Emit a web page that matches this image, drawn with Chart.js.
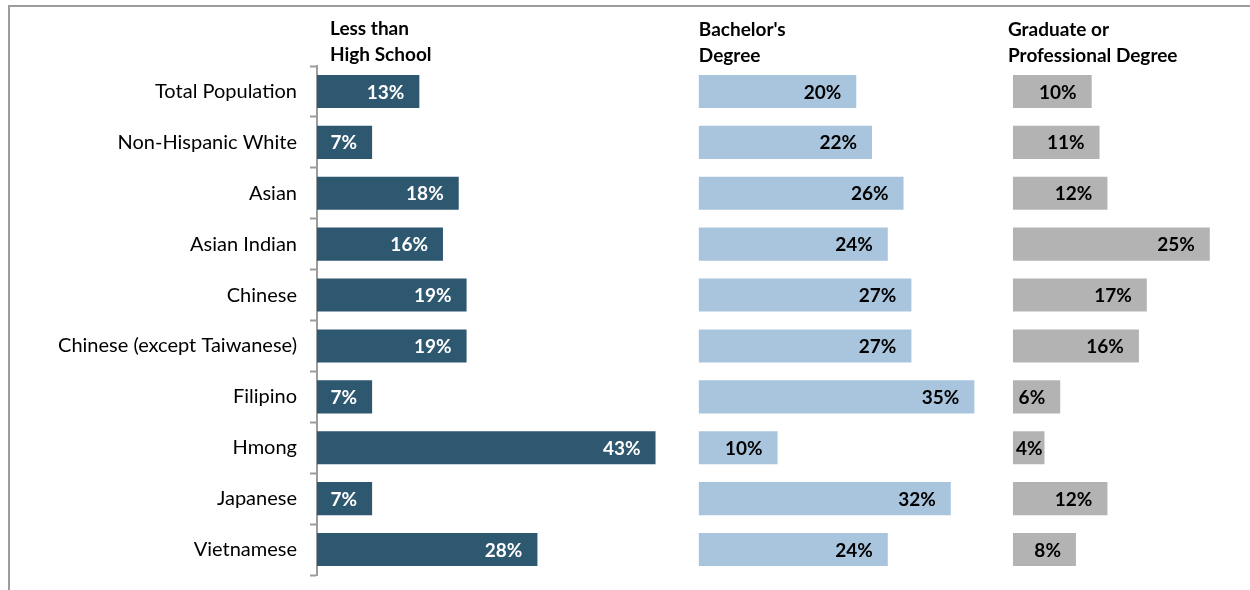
<!DOCTYPE html>
<html>
<head>
<meta charset="utf-8">
<script src="https://cdn.jsdelivr.net/npm/chart.js@4.4.1/dist/chart.umd.min.js"></script>
<style>
  html, body { margin: 0; padding: 0; background: #fff; }
  #wrap { position: relative; width: 1250px; height: 590px; overflow: hidden; }
  #frame { position: absolute; left: 8px; top: 5px; width: 1300px; height: 700px;
           border-top: 2px solid #9c9c9c; border-left: 2px solid #9c9c9c; }
  canvas { position: absolute; left: 0; top: 0; }
</style>
</head>
<body>
<div id="wrap">
  <div id="frame"></div>
  <canvas id="c" width="1250" height="590"></canvas>
</div>
<script>
const categories = [
  "Total Population", "Non-Hispanic White", "Asian", "Asian Indian", "Chinese",
  "Chinese (except Taiwanese)", "Filipino", "Hmong", "Japanese", "Vietnamese"
];
const lessThanHighSchool = [13, 7, 18, 16, 19, 19, 7, 43, 7, 28];
const bachelorsDegree    = [20, 22, 26, 24, 27, 27, 35, 10, 32, 24];
const graduateDegree     = [10, 11, 12, 25, 17, 16, 6, 4, 12, 8];
const panelHeaders = [
  ["Less than", "High School"],
  ["Bachelor's", "Degree"],
  ["Graduate or", "Professional Degree"]
];

// layout constants (value-space offsets where each panel starts)
const PANEL_START = [0, 48.5, 88.4];
const HEADER_DX = [13, 0, -5];
const HEADER_BASELINES = [[35, 61], [35.5, 61.5], [36, 61.5]];
const COLORS = ["#2E5770", "#A9C5DE", "#B3B3B3"];
const LABEL_COLORS = ["#ffffff", "#000000", "#000000"];

const FONT = "Lato, 'Open Sans', sans-serif";

function floating(values, start) {
  return values.map(v => [start, start + v]);
}
const seriesValues = [lessThanHighSchool, bachelorsDegree, graduateDegree];

const labelPlugin = {
  id: 'barLabels',
  afterDatasetsDraw(chart) {
    const ctx = chart.ctx;
    ctx.save();
    ctx.font = "bold 19px " + FONT;
    ctx.textBaseline = 'middle';
    ctx.textAlign = 'right';
    chart.data.datasets.forEach((ds, di) => {
      const meta = chart.getDatasetMeta(di);
      meta.data.forEach((el, i) => {
        const txt = seriesValues[di][i] + "%";
        const w = ctx.measureText(txt).width;
        const end = Math.max(el.x - 15, el.base + w + 3);
        ctx.fillStyle = LABEL_COLORS[di];
        ctx.fillText(txt, end, el.y + 1);
      });
    });
    ctx.restore();
  },
  afterDraw(chart) {
    const ctx = chart.ctx;
    const xs = chart.scales.x;
    ctx.save();
    ctx.font = "bold 19px " + FONT;
    ctx.textAlign = 'left';
    ctx.textBaseline = 'alphabetic';
    ctx.fillStyle = '#000';
    panelHeaders.forEach((lines, p) => {
      const x = xs.getPixelForValue(PANEL_START[p]) + HEADER_DX[p];
      lines.forEach((ln, k) => ctx.fillText(ln, x, HEADER_BASELINES[p][k]));
    });
    ctx.restore();
  }
};

new Chart(document.getElementById('c'), {
  type: 'bar',
  data: {
    labels: categories,
    datasets: seriesValues.map((vals, i) => ({
      data: floating(vals, PANEL_START[i]),
      backgroundColor: COLORS[i],
      borderWidth: 0,
      grouped: false,
      barPercentage: 0.65,
      categoryPercentage: 1.0
    }))
  },
  options: {
    indexAxis: 'y',
    responsive: false,
    animation: false,
    devicePixelRatio: 1,
    layout: { padding: { top: 66, bottom: 15, left: 0, right: 4 } },
    plugins: { legend: { display: false }, tooltip: { enabled: false } },
    scales: {
      x: {
        display: false,
        min: 0,
        max: 118
      },
      y: {
        afterFit(s) { s.width = 317; s.paddingTop = 0; s.paddingBottom = 0; },
        grid: {
          drawOnChartArea: false,
          drawTicks: true,
          tickLength: 7,
          tickWidth: 2,
          tickColor: '#9c9c9c',
          offset: true
        },
        border: { display: true, color: '#9c9c9c', width: 2 },
        ticks: {
          padding: 13,
          color: '#000',
          font: { family: FONT, size: 20 }
        }
      }
    }
  },
  plugins: [labelPlugin]
});
</script>
</body>
</html>
